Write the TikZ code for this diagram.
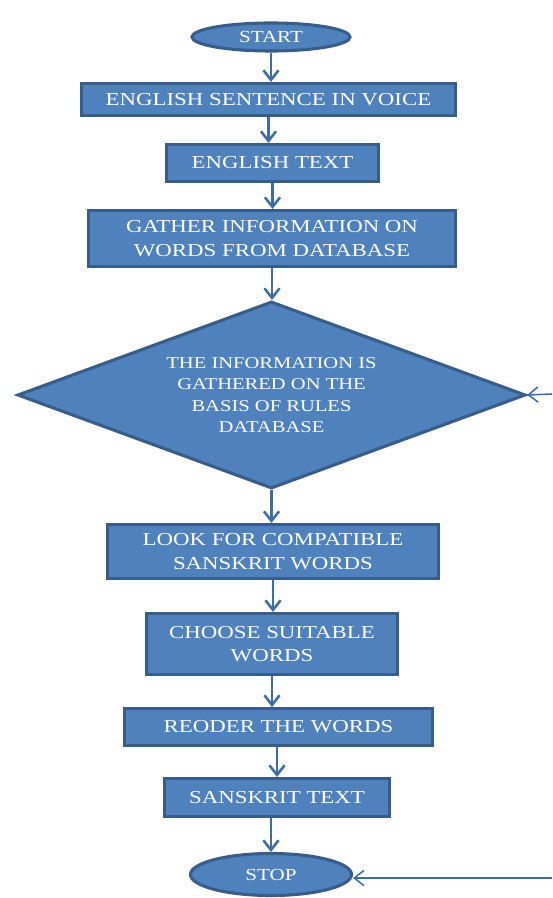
\documentclass[tikz,border=0pt]{standalone}
\usepackage{fontspec}
\setmainfont{Liberation Serif}[FakeStretch=1.25]
\usetikzlibrary{arrows.meta,shapes.geometric}
\definecolor{boxblue}{HTML}{4F81BD}
\definecolor{edge}{HTML}{385D8A}
\definecolor{wire}{HTML}{3D6CA6}

\begin{document}
\begin{tikzpicture}[
  x=0.025cm, y=-0.025cm,
  font=\fontsize{13}{16.5}\selectfont, text=white,
  stepbox/.style={draw=edge,fill=boxblue,line width=2.2pt,align=center,inner sep=2pt},
  term/.style={stepbox,ellipse,font=\fontsize{12}{14}\selectfont},
  decide/.style={stepbox,diamond,aspect=2.7,inner sep=0pt,font=\fontsize{11.7}{15.2}\selectfont},
  flow/.style={-{Straight Barb[length=2.4mm,width=3.8mm]},draw=wire,line width=1.8pt},
  sideflow/.style={flow,line width=1.1pt},
]
\useasboundingbox (0,0) rectangle (552,898);

\node[term,minimum width=3.95cm,minimum height=.7cm] (start) at (271,37) {START};
\node[stepbox,minimum width=9.35cm,minimum height=.8cm] (voice) at (268.5,99.5) {ENGLISH SENTENCE IN VOICE};
\node[stepbox,minimum width=5.3cm,minimum height=.925cm] (etext) at (272.5,163) {ENGLISH TEXT};
\node[stepbox,minimum width=9.175cm,minimum height=1.4cm] (gather) at (272,238.5) {GATHER INFORMATION ON\\WORDS FROM DATABASE};
\node[decide,minimum width=12.7cm,minimum height=4.675cm] (rules) at (271.5,395) {THE INFORMATION IS\\GATHERED ON THE\\BASIS OF RULES\\DATABASE};
\node[stepbox,minimum width=8.275cm,minimum height=1.35cm] (look) at (273,551.5) {LOOK FOR COMPATIBLE\\SANSKRIT WORDS};
\node[stepbox,minimum width=6.275cm,minimum height=1.525cm] (choose) at (272,644) {CHOOSE SUITABLE\\WORDS};
\node[stepbox,minimum width=7.7cm,minimum height=.925cm] (reorder) at (278.5,727) {REODER THE WORDS};
\node[stepbox,minimum width=5.625cm,minimum height=.95cm] (stext) at (277,797.5) {SANSKRIT TEXT};
\node[term,minimum width=4.025cm,minimum height=1.05cm] (stop) at (271,874.5) {STOP};

\foreach \a/\b in {start/voice,voice/etext,etext/gather,gather/rules,rules/look,look/choose,choose/reorder}
  \draw[flow] (\a.south) -- (\a.south |- \b.north);
\foreach \a/\b in {reorder/stext,stext/stop}
  \draw[flow] (\b.north |- \a.south) -- (\b.north);

\coordinate (fromright) at (552,394);
\coordinate (fromfar) at (552,878);
\draw[sideflow] (fromright) -- (rules.east);
\draw[sideflow] (fromfar) -- (fromfar -| stop.east);
\end{tikzpicture}
\end{document}
